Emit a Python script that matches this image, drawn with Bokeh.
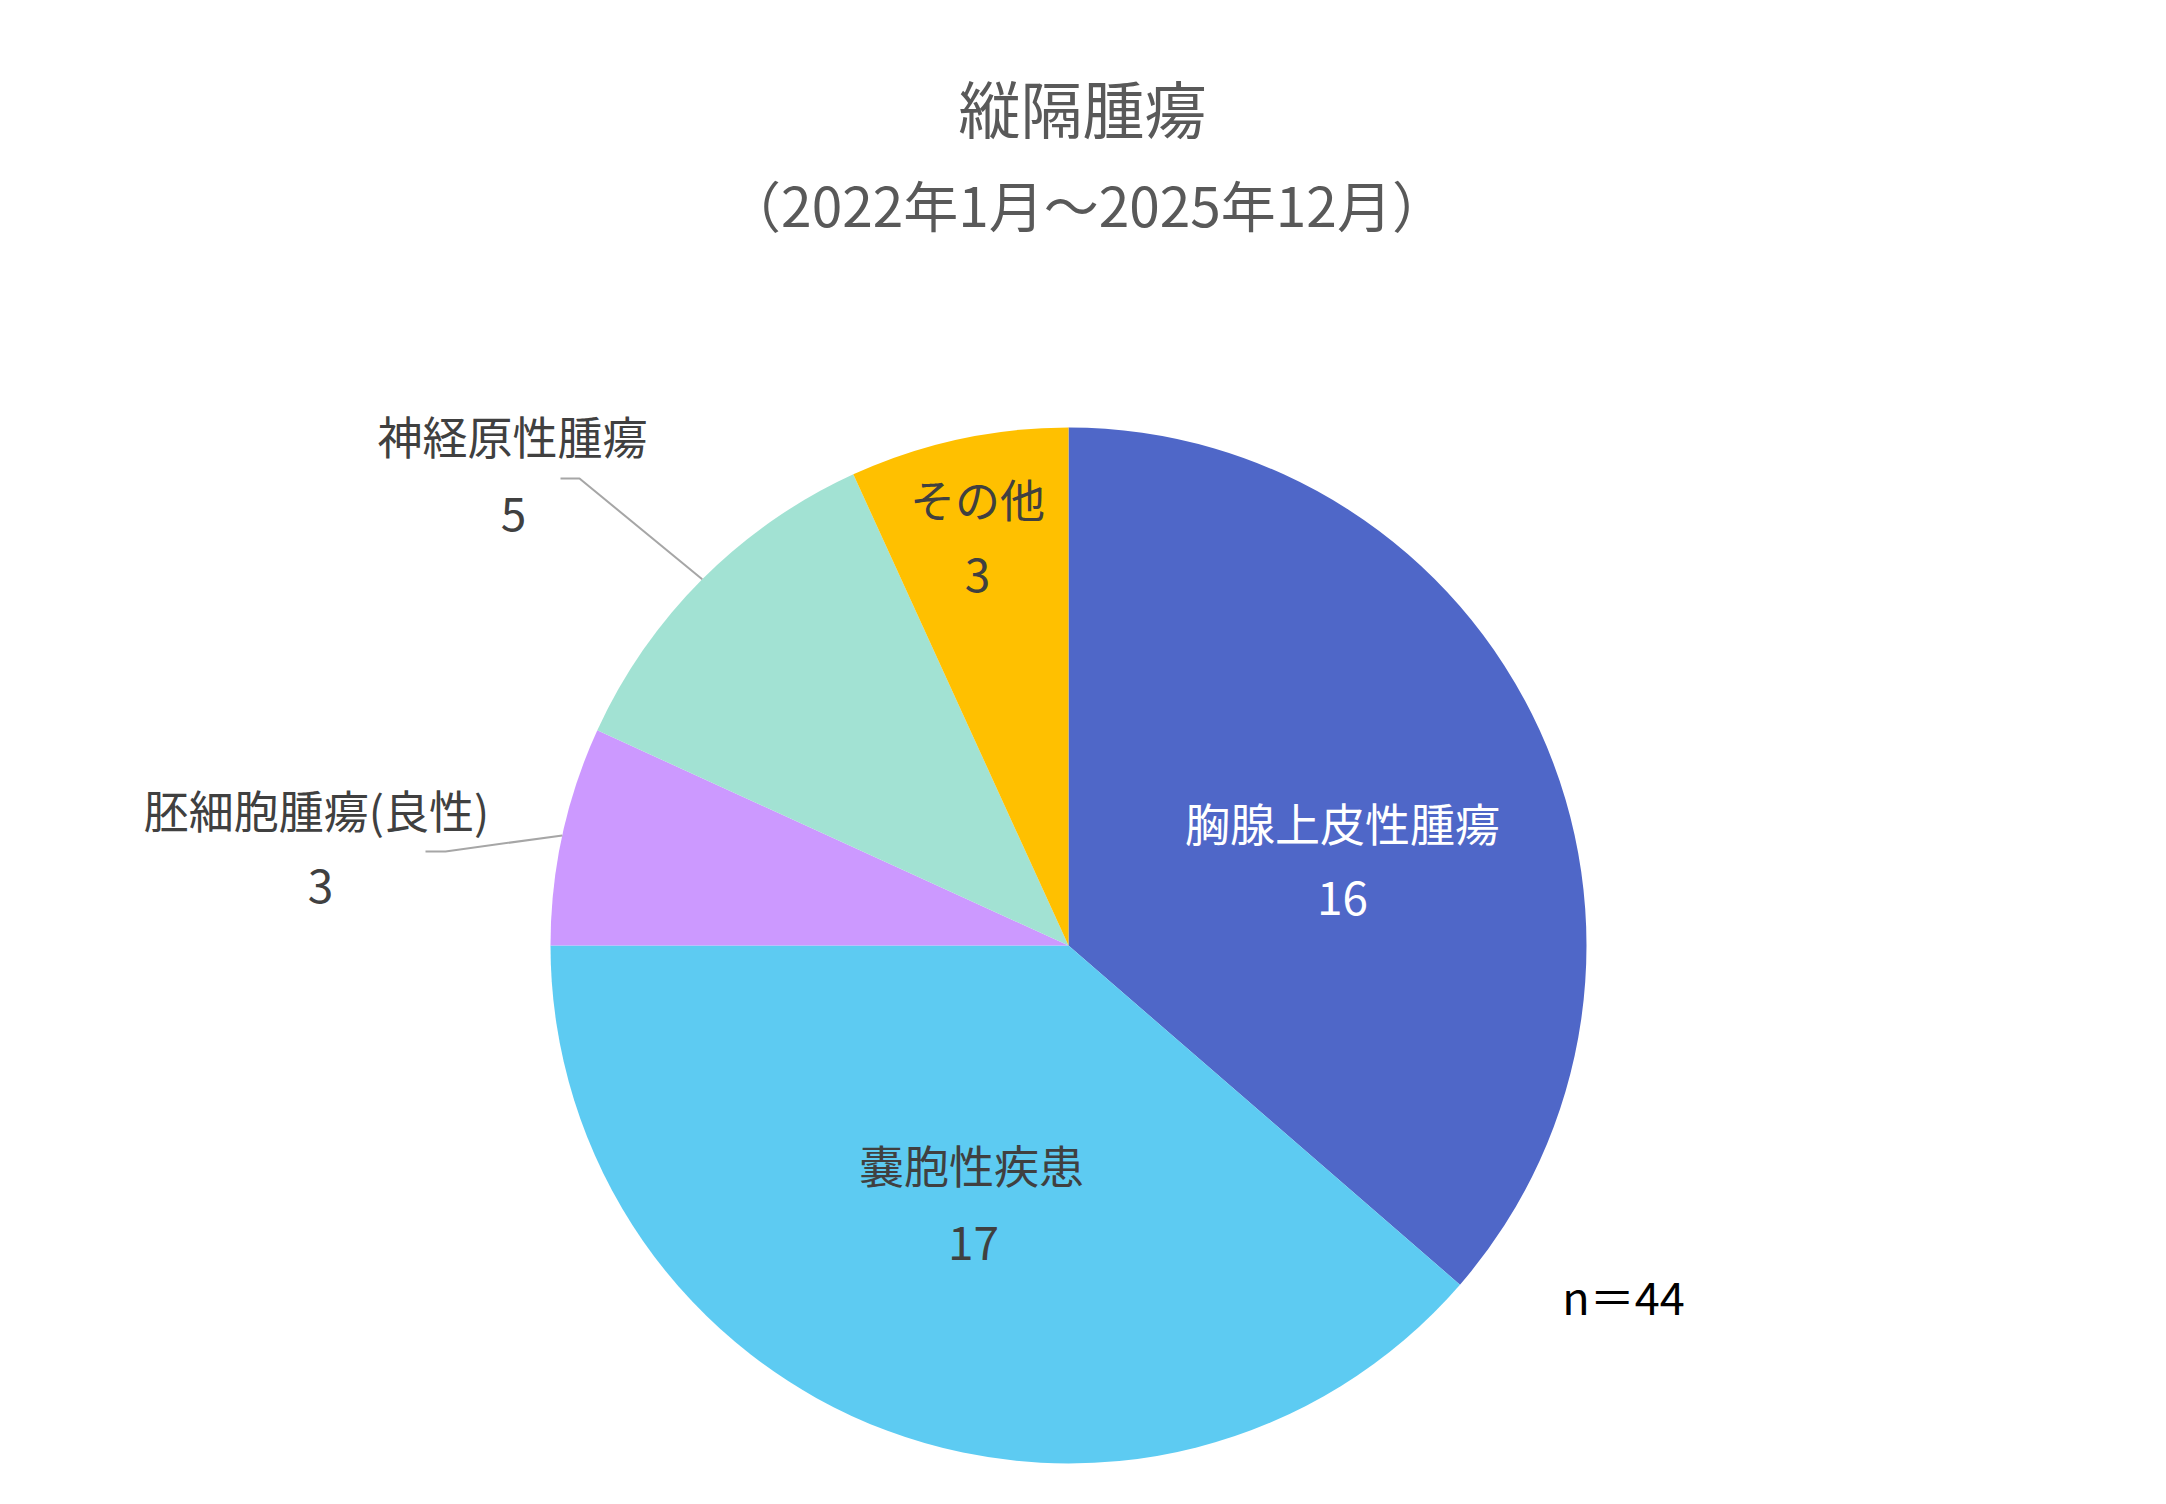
import numpy as np
from bokeh.core.properties import value
from bokeh.embed import file_html
from bokeh.models import ColumnDataSource, Range1d
from bokeh.plotting import figure
from bokeh.resources import INLINE

# data
categories = ['胸腺上皮性腫瘍', '嚢胞性疾患', '胚細胞腫瘍(良性)', '神経原性腫瘍', 'その他']
counts = [16, 17, 3, 5, 3]
title_text = '縦隔腫瘍'
subtitle_text = '（2022年1月～2025年12月）'
total_text = 'n＝44'

COLORS = ['#4F67C8', '#5DCBF2', '#CC99FF', '#A2E2D3', '#FFC000']
LABEL_COLORS = ['#FFFFFF', '#404040', '#404040', '#404040', '#404040']
FONT = value("Noto Sans CJK JP")

R = 518

# label offsets from the pie centre (name, number), in pixels
NAME_POS = [(274, 123), (-97, -219), (-752, 136), (-556, 510), (-91, 447)]
NUM_POS = [(274, 48), (-95, -297), (-748, 60), (-555, 432), (-91, 371)]
# elbow of the leader lines, for the labels that sit outside
LEADERS = {2: [(-643, 94), (-623, 94)], 3: [(-508, 467), (-489, 467)]}

''' slices, clockwise from twelve o'clock '''
vals = np.array(counts, dtype=float)
frac = vals / vals.sum()
ends = np.pi / 2 - 2 * np.pi * np.cumsum(frac)
starts = ends + 2 * np.pi * frac
mids = (starts + ends) / 2

src = ColumnDataSource(dict(cat=categories, n=counts, start=ends, end=starts, color=COLORS))

p = figure(width=2150, height=1488, output_backend="svg", toolbar_location=None,
           x_range=Range1d(-1068, 1082), y_range=Range1d(-543, 945),
           min_border=0)
p.axis.visible = False
p.grid.visible = False
p.outline_line_color = None
p.background_fill_color = "white"

p.wedge(x=0, y=0, radius=R, start_angle='start', end_angle='end',
        color='color', line_color=None, source=src)

# leader lines
for i, pts in LEADERS.items():
    xs = [q[0] for q in pts] + [R * np.cos(mids[i])]
    ys = [q[1] for q in pts] + [R * np.sin(mids[i])]
    p.line(xs, ys, line_color="#A6A6A6", line_width=2)

p.text(x=[q[0] for q in NAME_POS], y=[q[1] for q in NAME_POS], text=categories,
       text_color=LABEL_COLORS, text_font=FONT, text_font_size="45px",
       text_align="center", text_baseline="middle")
p.text(x=[q[0] for q in NUM_POS], y=[q[1] for q in NUM_POS], text=[str(c) for c in counts],
       text_color=LABEL_COLORS, text_font=FONT, text_font_size="46px",
       text_align="center", text_baseline="middle")

p.text(x=[14], y=[839], text=[title_text], text_color="#595959", text_font=FONT,
       text_font_size="62px", text_align="center", text_baseline="middle")
p.text(x=[18], y=[743], text=[subtitle_text], text_color="#595959", text_font=FONT,
       text_font_size="55px", text_align="center", text_baseline="middle")
p.text(x=[555], y=[-350], text=[total_text], text_color="#000000", text_font=FONT,
       text_font_size="45px", text_align="center", text_baseline="middle")

open("out.html", "w").write(file_html(p, INLINE))
